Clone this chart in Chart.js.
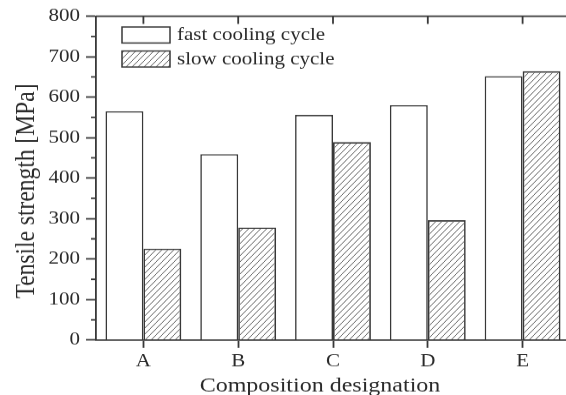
<!DOCTYPE html>
<html>
<head>
<meta charset="utf-8">
<script src="https://cdn.jsdelivr.net/npm/chart.js@4/dist/chart.umd.min.js"></script>
<style>
  html, body { margin: 0; padding: 0; background: #fff; overflow: hidden; }
  #strength { display: block; }
</style>
</head>
<body>
<canvas id="strength" width="580" height="454" style="width:580px;height:395px"></canvas>
<script>
// tensile strength per composition, MPa
var categories = ['A', 'B', 'C', 'D', 'E'];
var fastCooling = [565, 459, 556, 580, 652];
var slowCooling = [226, 278, 489, 296, 664];
var seriesNames = ['fast cooling cycle', 'slow cooling cycle'];
var yMin = 0, yMax = 800, yMajor = 100, yMinor = 50;

var INK = '#383838';
var TEXT = '#2a2a2a';
var SERIF = '"Liberation Serif", "Times New Roman", serif';

var canvas = document.getElementById('strength');
var ctx = canvas.getContext('2d');

// diagonal hatch used for the slow cooling bars
function hatch() {
  var w = 6, h = 7;
  var tile = document.createElement('canvas');
  tile.width = w; tile.height = h;
  var t = tile.getContext('2d');
  t.strokeStyle = '#555';
  t.lineWidth = 0.9;
  t.beginPath();
  t.moveTo(-1, h + h / w);
  t.lineTo(w + 1, -h / w);
  t.stroke();
  return ctx.createPattern(tile, 'repeat');
}

// top frame, inner ticks, minor y ticks, axis titles and the legend
var decorations = {
  id: 'decorations',
  afterDraw: function(chart) {
    var c = chart.ctx, a = chart.chartArea;
    var x = chart.scales.x, y = chart.scales.y;
    c.save();
    c.strokeStyle = INK;
    c.lineWidth = 1.8;
    c.beginPath();
    c.moveTo(a.left, a.top);
    c.lineTo(a.right, a.top);
    x.ticks.forEach(function(t, i) {
      var px = x.getPixelForTick(i);
      c.moveTo(px, a.top);
      c.lineTo(px, a.top + 9);
    });
    y.ticks.forEach(function(t) {
      if (t.value % yMajor !== 0) {
        var py = y.getPixelForValue(t.value);
        c.moveTo(a.left - 5, py);
        c.lineTo(a.left, py);
      }
    });
    c.stroke();

    // legend
    c.font = '21px ' + SERIF;
    c.fillStyle = TEXT;
    c.textBaseline = 'middle';
    c.textAlign = 'left';
    chart.data.datasets.forEach(function(ds, i) {
      var top = 31 + i * 27.6;
      c.fillStyle = ds.backgroundColor;
      c.fillRect(122, top, 48, 18.4);
      c.lineWidth = 1.5;
      c.strokeStyle = ds.borderColor;
      c.strokeRect(122, top, 48, 18.4);
      c.fillStyle = TEXT;
      c.fillText(ds.label, 177, top + 9.5);
    });

    // axis titles
    c.fillStyle = TEXT;
    c.textAlign = 'center';
    c.textBaseline = 'alphabetic';
    c.font = '24px ' + SERIF;
    c.fillText('Composition designation', 320, 450);
    c.translate(34, 219.5);
    c.rotate(-Math.PI / 2);
    c.font = '27px ' + SERIF;
    c.fillText('Tensile strength [MPa]', 0, 0);
    c.restore();
  }
};

var slowFill = hatch();

new Chart(ctx, {
  type: 'bar',
  data: {
    labels: categories,
    datasets: [{
      label: seriesNames[0],
      data: fastCooling,
      backgroundColor: '#ffffff',
      borderColor: INK,
      borderWidth: 1.6,
      borderSkipped: 'bottom'
    }, {
      label: seriesNames[1],
      data: slowCooling,
      backgroundColor: slowFill,
      borderColor: INK,
      borderWidth: 1.6,
      borderSkipped: 'bottom'
    }]
  },
  options: {
    responsive: false,
    devicePixelRatio: 1,
    animation: false,
    layout: { padding: { top: 18.4, right: 10, left: 0, bottom: 0 } },
    datasets: { bar: { categoryPercentage: 0.8, barPercentage: 1.0 } },
    plugins: {
      legend: { display: false },
      tooltip: { enabled: false }
    },
    scales: {
      x: {
        grid: {
          offset: false,
          drawOnChartArea: false,
          tickLength: 9,
          tickWidth: 1.8,
          tickColor: INK
        },
        border: { color: INK, width: 1.8 },
        ticks: {
          color: TEXT,
          padding: 3,
          font: { family: SERIF, size: 21 }
        },
        afterFit: function(scale) { scale.height = 454 - 390.8; }
      },
      y: {
        min: yMin,
        max: yMax,
        grid: {
          drawOnChartArea: false,
          tickLength: 10,
          tickWidth: 1.8,
          tickColor: function(c) { return c.tick && c.tick.value % yMajor === 0 ? INK : 'rgba(0,0,0,0)'; }
        },
        border: { color: INK, width: 1.8 },
        ticks: {
          stepSize: yMinor,
          autoSkip: false,
          color: TEXT,
          padding: 6,
          font: { family: SERIF, size: 21 },
          callback: function(v) { return v % yMajor === 0 ? v : ''; }
        },
        afterFit: function(scale) { scale.width = 96; }
      }
    }
  },
  plugins: [decorations]
});
</script>
</body>
</html>
